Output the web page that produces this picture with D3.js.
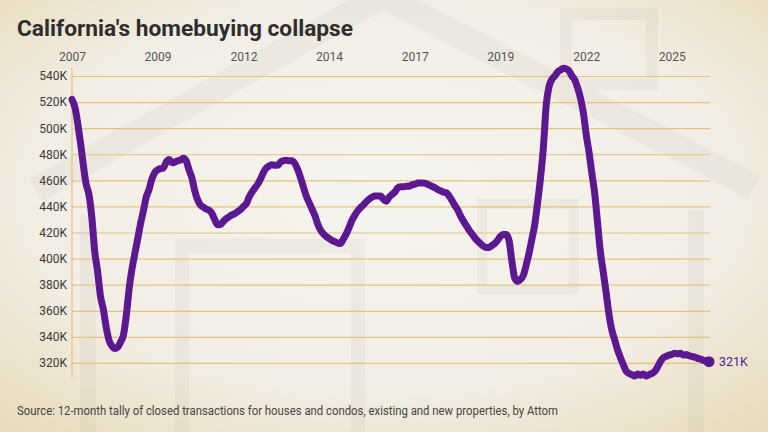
<!DOCTYPE html>
<html lang="en">
<head>
    <meta charset="UTF-8">
    <title>California's homebuying collapse</title>
    <script type="text/javascript" src="https://cdn.jsdelivr.net/npm/d3@7"></script>
    <style type="text/css">
        body { margin: 0; padding: 0; }
        svg { display: block; font-family: Roboto, "Noto Sans", sans-serif; }
    </style>
</head>
<body>
<script type="text/javascript">

    //Width and height
    var w = 768;
    var h = 432;

    // monthly 12-month tally of closed sales, in thousands
    var months = [
        "2007-01","2007-02","2007-04","2007-06","2007-07","2007-08","2007-09","2007-10","2007-11","2007-12",
        "2008-01","2008-02","2008-03","2008-04","2008-05","2008-06","2008-07","2008-08","2008-09","2008-10","2008-11","2008-12",
        "2009-01","2009-02","2009-03","2009-04","2009-05","2009-06","2009-07","2009-08","2009-09","2009-10","2009-11","2009-12",
        "2010-01","2010-02","2010-03","2010-04","2010-05","2010-06","2010-07","2010-08","2010-09","2010-10","2010-11","2010-12",
        "2011-01","2011-02","2011-03","2011-04","2011-05","2011-06","2011-07","2011-08","2011-09","2011-10","2011-11","2011-12",
        "2012-01","2012-02","2012-03","2012-04","2012-05","2012-06","2012-07","2012-08","2012-09","2012-10","2012-11","2012-12",
        "2013-01","2013-02","2013-03","2013-04","2013-05","2013-06","2013-07","2013-08","2013-09","2013-10","2013-11","2013-12",
        "2014-01","2014-02","2014-03","2014-04","2014-05","2014-06","2014-07","2014-08","2014-09","2014-10","2014-11","2014-12",
        "2015-01","2015-02","2015-03","2015-04","2015-05","2015-06","2015-07","2015-08","2015-09","2015-10","2015-11","2015-12",
        "2016-01","2016-02","2016-03","2016-04","2016-05","2016-06","2016-07","2016-08","2016-09","2016-10","2016-11","2016-12",
        "2017-01","2017-02","2017-03","2017-04","2017-05","2017-06","2017-07","2017-08","2017-09","2017-10","2017-11","2017-12",
        "2018-01","2018-02","2018-03","2018-04","2018-05","2018-06","2018-07","2018-08","2018-09","2018-10","2018-11","2018-12",
        "2019-01","2019-02","2019-03","2019-04","2019-05","2019-06","2019-07","2019-08","2019-09","2019-10","2019-11","2019-12",
        "2020-01","2020-02","2020-03","2020-04","2020-05","2020-06","2020-07","2020-08","2020-09","2020-10","2020-11","2020-12",
        "2021-01","2021-02","2021-03","2021-04","2021-05","2021-06","2021-07","2021-08","2021-09","2021-10","2021-11","2021-12",
        "2022-01","2022-02","2022-03","2022-04","2022-05","2022-06","2022-07","2022-08","2022-09","2022-10","2022-11","2022-12",
        "2023-01","2023-02","2023-03","2023-04","2023-05","2023-06","2023-07","2023-08","2023-09","2023-10","2023-11","2023-12",
        "2024-01","2024-02","2024-03","2024-04","2024-05","2024-06","2024-07","2024-08","2024-09","2024-10","2024-11","2024-12",
        "2025-01","2025-02","2025-03","2025-04","2025-05","2025-06","2025-07","2025-08"
    ];
    var sales = [
        522, 516, 489, 457, 449, 431, 405, 390, 371, 361,
        347, 337, 333, 331, 332, 336, 341, 356, 377, 392, 404, 415,
        427, 437, 447, 453, 461, 466, 468, 469, 469.5, 474, 476, 473.5,
        474, 475, 475.5, 477, 475, 468, 462, 452, 445, 441, 439.5, 438,
        437, 434.5, 430, 426, 426, 428.5, 430.5, 432, 433.5, 434.5, 436, 437.5,
        440, 442, 447, 451, 454, 457, 461, 466, 469.5, 471, 472, 471.5,
        471.5, 474, 475, 475.5, 475, 475, 473, 468.5, 462, 455, 448, 443,
        438, 433, 427, 422, 419, 417, 415.5, 414, 413, 412, 411.5, 415,
        419, 424, 429, 433, 436.5, 439, 441, 443.5, 445.5, 447, 448, 448,
        448, 445.5, 444, 447, 449, 451, 454, 455, 455, 455.5, 455.5, 456.5,
        457, 458, 458, 458, 457.5, 456.5, 455.5, 454.5, 453, 452, 451, 450.5,
        448, 444.5, 441, 437.5, 433, 429, 425.5, 422, 419, 416, 413.5, 411.5,
        409.5, 408.5, 408.5, 410, 411.5, 414, 417, 418.5, 418.5, 414, 398, 385,
        382.5, 384, 387, 395, 404, 415, 426, 443, 462, 485, 518, 532,
        537.5, 540, 543, 544.5, 546, 545.5, 544, 540, 537, 531, 523, 512,
        495, 481, 466, 450, 428, 405, 390, 374, 357, 345, 337.5, 330,
        324, 318.5, 314, 312, 311, 310, 311.5, 310.5, 311.5, 310, 311, 312,
        313.5, 317, 321, 324, 325, 326, 326.5, 327.5, 327, 327.5, 326, 326.5,
        325.5, 325, 324.5, 323.5, 323, 322, 321.5, 321
    ];

    // axis ticks
    var xTickMonths = ["2007-01", "2009-07", "2012-01", "2014-07", "2017-01", "2019-07", "2022-01", "2024-07"];
    var xTickLabels = ["2007", "2009", "2012", "2014", "2017", "2019", "2022", "2025"];
    var yTicks = [320, 340, 360, 380, 400, 420, 440, 460, 480, 500, 520, 540];
    var endLabel = "321K";

    var parseMonth = d3.timeParse("%Y-%m");
    var dataset = months.map(function(m, i) {
        return { date: parseMonth(m), value: sales[i] };
    });

    var lineColor = "#5c1890";
    var gridColor = "#e3c47c";

    //Create SVG element
    var svg = d3.select("body")
        .append("svg")
        .attr("width", w)
        .attr("height", h);

    // background: pale paper with a faint house drawing
    var defs = svg.append("defs");
    var grad = defs.append("radialGradient")
        .attr("id", "bg")
        .attr("cx", "50%").attr("cy", "45%").attr("r", "75%");
    grad.append("stop").attr("offset", "0%").attr("stop-color", "#f6f4ef");
    grad.append("stop").attr("offset", "60%").attr("stop-color", "#f2eee5");
    grad.append("stop").attr("offset", "100%").attr("stop-color", "#e8dab8");

    svg.append("rect")
        .attr("width", w)
        .attr("height", h)
        .attr("fill", "url(#bg)");

    var house = svg.append("g")
        .attr("fill", "none")
        .attr("stroke", "#a9a294")
        .attr("stroke-linejoin", "miter")
        .attr("opacity", 0.09);
    house.append("path")
        .attr("d", "M36,190 L382,-4 L754,187")
        .attr("stroke-width", 26);
    house.append("path")
        .attr("d", "M88,215 L88,432 M696,210 L696,432")
        .attr("stroke-width", 16);
    house.append("rect")
        .attr("x", 182).attr("y", 246).attr("width", 176).attr("height", 200)
        .attr("stroke-width", 14);
    house.append("rect")
        .attr("x", 482).attr("y", 204).attr("width", 92).attr("height", 86)
        .attr("stroke-width", 10);
    house.append("rect")
        .attr("x", 566).attr("y", 14).attr("width", 86).attr("height", 70)
        .attr("stroke-width", 12);

    // scales
    var x = d3.scaleTime()
        .domain(d3.extent(dataset, function(d) { return d.date; }))
        .range([72, 709]);

    var y = d3.scaleLinear()
        .domain([308, 540])
        .range([378.6, 76]);

    // y axis with gridlines
    var yAxis = d3.axisLeft(y)
        .tickValues(yTicks)
        .tickSize(-(710 - 72))
        .tickPadding(5)
        .tickFormat(function(d) { return d + "K"; });

    var gy = svg.append("g")
        .attr("transform", "translate(72,0)")
        .call(yAxis);
    gy.select(".domain").remove();
    gy.selectAll(".tick line")
        .attr("stroke", gridColor)
        .attr("stroke-width", 1.2);
    gy.selectAll(".tick text")
        .attr("fill", "#3a3a3a")
        .attr("font-size", "12px")
        .attr("font-family", "Roboto, sans-serif");

    // vertical axis line
    svg.append("line")
        .attr("x1", 72).attr("x2", 72)
        .attr("y1", 68).attr("y2", 378)
        .attr("stroke", gridColor)
        .attr("stroke-width", 1.2);

    // x axis labels on top
    var xAxis = d3.axisTop(x)
        .tickValues(xTickMonths.map(parseMonth))
        .tickSize(0)
        .tickPadding(4)
        .tickFormat(function(d, i) { return xTickLabels[i]; });

    var gx = svg.append("g")
        .attr("transform", "translate(0,65)")
        .call(xAxis);
    gx.select(".domain").remove();
    gx.selectAll(".tick text")
        .attr("fill", "#555")
        .attr("font-size", "12px")
        .attr("font-family", "Roboto, sans-serif");

    // the line
    var line = d3.line()
        .x(function(d) { return x(d.date); })
        .y(function(d) { return y(d.value); })
        .curve(d3.curveMonotoneX);

    svg.append("path")
        .datum(dataset)
        .attr("d", line)
        .attr("fill", "none")
        .attr("stroke", lineColor)
        .attr("stroke-width", 7)
        .attr("stroke-linecap", "round")
        .attr("stroke-linejoin", "round");

    // end dot and label
    var last = dataset[dataset.length - 1];
    svg.append("circle")
        .attr("cx", x(last.date))
        .attr("cy", y(last.value))
        .attr("r", 5.5)
        .attr("fill", lineColor);

    svg.append("text")
        .text(endLabel)
        .attr("x", x(last.date) + 10)
        .attr("y", y(last.value))
        .attr("dy", "0.35em")
        .attr("font-size", "12.5px")
        .attr("fill", lineColor);

    // title
    svg.append("text")
        .text("California's homebuying collapse")
        .attr("x", 17)
        .attr("y", 36)
        .attr("font-size", "21.5px")
        .attr("font-weight", "bold")
        .attr("fill", "#2e2e2e")
        .attr("textLength", 336)
        .attr("lengthAdjust", "spacingAndGlyphs");

    // source note
    svg.append("text")
        .text("Source: 12-month tally of closed transactions for houses and condos, existing and new properties, by Attom")
        .attr("x", 17)
        .attr("y", 415)
        .attr("font-size", "12.5px")
        .attr("fill", "#444")
        .attr("textLength", 541)
        .attr("lengthAdjust", "spacingAndGlyphs");

</script>
</body>
</html>
